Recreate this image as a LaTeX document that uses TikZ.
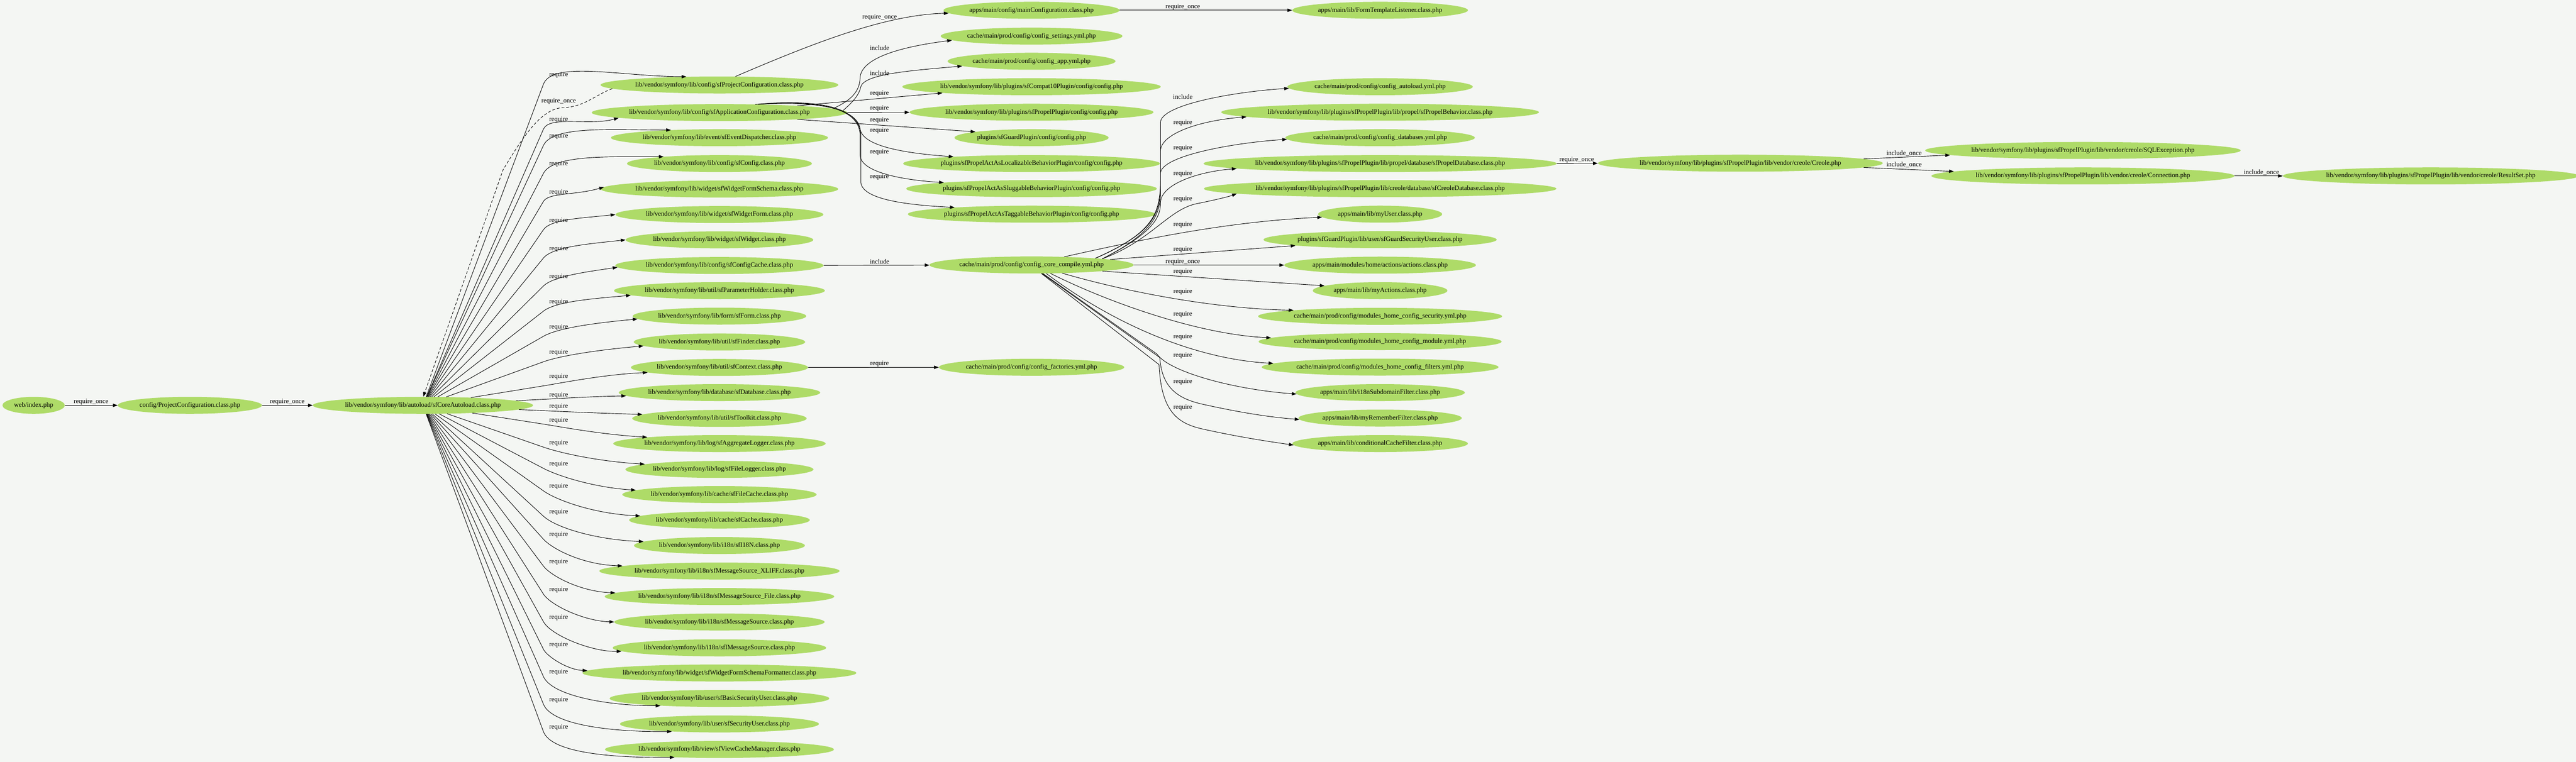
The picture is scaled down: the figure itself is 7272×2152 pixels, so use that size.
\documentclass[tikz,border=0pt]{standalone}
\usepackage{fontspec}
\setmainfont{Liberation Serif}
\usetikzlibrary{shapes.geometric,arrows.meta,calc}
\definecolor{bgc}{RGB}{244,246,243}
\definecolor{ndc}{RGB}{174,219,104}
\tikzset{
 gv/.style={ellipse, fill=ndc, draw=none, inner xsep=0pt, inner ysep=0pt, minimum height=36pt, font=\fontsize{14}{16}\selectfont},
 mw/.style={minimum width=#1*0.75pt},
 lbl/.style={font=\fontsize{14}{16}\selectfont, inner sep=0pt},
 edge/.style={draw=black, line width=1pt, -{Triangle[length=10pt,width=7pt]}},
}
\newcommand\coreedge[7]{%
 \pgfmathsetmacro\ceQy{#3+#6}%
 \pgfmathsetmacro\ceVy{(\ceQy-1145)/100}%
 \pgfmathsetmacro\ceVl{sqrt(11.56+\ceVy*\ceVy)}%
 \pgfmathsetmacro\ceD{0.18*(#4-1534)}%
 \pgfmathsetmacro\ceAx{1534+\ceD*3.4/\ceVl}%
 \pgfmathsetmacro\ceAy{\ceQy+\ceD*\ceVy/\ceVl}%
 \pgfmathsetmacro\ceBx{#4-0.45*(#4-1534)}%
 \pgfmathsetmacro\ceBy{#5+#7}%
 \draw[edge] (core) -- (1534,\ceQy) .. controls (\ceAx,\ceAy) and (\ceBx,\ceBy) .. (#1.#2);}
\begin{document}
\begin{tikzpicture}[x=0.75pt,y=-0.75pt]
\fill[bgc] (0,0) rectangle (7272,2152);
\useasboundingbox (0,0) rectangle (7272,2152);

% first nodes
\node[gv,mw=176] (web) at (95,1145) {web/index.php};
\node[gv,mw=407] (pcfg) at (536,1145) {config/ProjectConfiguration.class.php};
\node[gv,mw=618] (core) at (1194,1145) {lib/vendor/symfony/lib/autoload/sfCoreAutoload.class.php};

% left column
\node[gv,mw=658] (pc) at (2031,240) {lib/vendor/symfony/lib/config/sfProjectConfiguration.class.php};
\node[gv,mw=703] (ac) at (2031,318) {lib/vendor/symfony/lib/config/sfApplicationConfiguration.class.php};
\node[gv,mw=604] (ed) at (2031,389) {lib/vendor/symfony/lib/event/sfEventDispatcher.class.php};
\node[gv,mw=521] (cf) at (2031,462) {lib/vendor/symfony/lib/config/sfConfig.class.php};
\node[gv,mw=658] (wfs) at (2031,534) {lib/vendor/symfony/lib/widget/sfWidgetFormSchema.class.php};
\node[gv,mw=581] (wf) at (2031,606) {lib/vendor/symfony/lib/widget/sfWidgetForm.class.php};
\node[gv,mw=526] (wdg) at (2031,677.5) {lib/vendor/symfony/lib/widget/sfWidget.class.php};
\node[gv,mw=583] (cc) at (2031,750) {lib/vendor/symfony/lib/config/sfConfigCache.class.php};
\node[gv,mw=584] (ph) at (2031,821) {lib/vendor/symfony/lib/util/sfParameterHolder.class.php};
\node[gv,mw=490] (fm) at (2031,893) {lib/vendor/symfony/lib/form/sfForm.class.php};
\node[gv,mw=483] (fd) at (2031,966) {lib/vendor/symfony/lib/util/sfFinder.class.php};
\node[gv,mw=497] (ctx) at (2031,1038) {lib/vendor/symfony/lib/util/sfContext.class.php};
\node[gv,mw=565] (db) at (2031,1109) {lib/vendor/symfony/lib/database/sfDatabase.class.php};
\node[gv,mw=490] (tk) at (2031,1182) {lib/vendor/symfony/lib/util/sfToolkit.class.php};
\node[gv,mw=589] (al) at (2031,1253) {lib/vendor/symfony/lib/log/sfAggregateLogger.class.php};
\node[gv,mw=526] (fl) at (2031,1326) {lib/vendor/symfony/lib/log/sfFileLogger.class.php};
\node[gv,mw=545] (fc) at (2031,1397) {lib/vendor/symfony/lib/cache/sfFileCache.class.php};
\node[gv,mw=510] (ca) at (2031,1469) {lib/vendor/symfony/lib/cache/sfCache.class.php};
\node[gv,mw=480] (ien) at (2031,1541) {lib/vendor/symfony/lib/i18n/sfI18N.class.php};
\node[gv,mw=669] (xl) at (2031,1613) {lib/vendor/symfony/lib/i18n/sfMessageSource\_XLIFF.class.php};
\node[gv,mw=638] (fi) at (2031,1685) {lib/vendor/symfony/lib/i18n/sfMessageSource\_File.class.php};
\node[gv,mw=587] (ms) at (2031,1757) {lib/vendor/symfony/lib/i18n/sfMessageSource.class.php};
\node[gv,mw=595] (ims) at (2031,1830) {lib/vendor/symfony/lib/i18n/sfIMessageSource.class.php};
\node[gv,mw=757] (wfsf) at (2031,1901) {lib/vendor/symfony/lib/widget/sfWidgetFormSchemaFormatter.class.php};
\node[gv,mw=614] (bsu) at (2031,1973) {lib/vendor/symfony/lib/user/sfBasicSecurityUser.class.php};
\node[gv,mw=557] (su) at (2031,2045) {lib/vendor/symfony/lib/user/sfSecurityUser.class.php};
\node[gv,mw=632] (vcm) at (2031,2117) {lib/vendor/symfony/lib/view/sfViewCacheManager.class.php};

% middle column
\node[gv,mw=497] (mc) at (2912,29) {apps/main/config/mainConfiguration.class.php};
\node[gv,mw=513] (set) at (2912,102) {cache/main/prod/config/config\_settings.yml.php};
\node[gv,mw=474] (app) at (2912,173) {cache/main/prod/config/config\_app.yml.php};
\node[gv,mw=706] (c10) at (2912,245) {lib/vendor/symfony/lib/plugins/sfCompat10Plugin/config/config.php};
\node[gv,mw=669] (ppc) at (2912,317) {lib/vendor/symfony/lib/plugins/sfPropelPlugin/config/config.php};
\node[gv,mw=435] (gpc) at (2912,389) {plugins/sfGuardPlugin/config/config.php};
\node[gv,mw=704] (loc) at (2912,462) {plugins/sfPropelActAsLocalizableBehaviorPlugin/config/config.php};
\node[gv,mw=684] (slug) at (2912,533) {plugins/sfPropelActAsSluggableBehaviorPlugin/config/config.php};
\node[gv,mw=680] (tag) at (2912,605) {plugins/sfPropelActAsTaggableBehaviorPlugin/config/config.php};
\node[gv,mw=573] (cc2) at (2912,748.5) {cache/main/prod/config/config\_core\_compile.yml.php};
\node[gv,mw=521] (fac) at (2912,1037.5) {cache/main/prod/config/config\_factories.yml.php};

% right column
\node[gv,mw=496] (ftl) at (3896,29) {apps/main/lib/FormTemplateListener.class.php};
\node[gv,mw=523] (auto) at (3896,245) {cache/main/prod/config/config\_autoload.yml.php};
\node[gv,mw=870] (behav) at (3896,317) {lib/vendor/symfony/lib/plugins/sfPropelPlugin/lib/propel/sfPropelBehavior.class.php};
\node[gv,mw=535] (dbs) at (3896,389) {cache/main/prod/config/config\_databases.yml.php};
\node[gv,mw=966] (pdb) at (3896,462) {lib/vendor/symfony/lib/plugins/sfPropelPlugin/lib/propel/database/sfPropelDatabase.class.php};
\node[gv,mw=962] (cdb) at (3896,533) {lib/vendor/symfony/lib/plugins/sfPropelPlugin/lib/creole/database/sfCreoleDatabase.class.php};
\node[gv,mw=350] (myu) at (3896,605) {apps/main/lib/myUser.class.php};
\node[gv,mw=649] (gsu) at (3896,677) {plugins/sfGuardPlugin/lib/user/sfGuardSecurityUser.class.php};
\node[gv,mw=541] (act) at (3896,749) {apps/main/modules/home/actions/actions.class.php};
\node[gv,mw=380] (myact) at (3896,821) {apps/main/lib/myActions.class.php};
\node[gv,mw=680] (sec) at (3896,893.5) {cache/main/prod/config/modules\_home\_config\_security.yml.php};
\node[gv,mw=675] (mod) at (3896,965) {cache/main/prod/config/modules\_home\_config\_module.yml.php};
\node[gv,mw=658] (fil) at (3896,1037) {cache/main/prod/config/modules\_home\_config\_filters.yml.php};
\node[gv,mw=478] (i18nf) at (3896,1109) {apps/main/lib/i18nSubdomainFilter.class.php};
\node[gv,mw=461] (rem) at (3896,1181) {apps/main/lib/myRememberFilter.class.php};
\node[gv,mw=494] (cond) at (3896,1253) {apps/main/lib/conditionalCacheFilter.class.php};

% far right
\node[gv,mw=776] (creole) at (4913,461) {lib/vendor/symfony/lib/plugins/sfPropelPlugin/lib/vendor/creole/Creole.php};
\node[gv,mw=859] (sql) at (5880,425) {lib/vendor/symfony/lib/plugins/sfPropelPlugin/lib/vendor/creole/SQLException.php};
\node[gv,mw=827] (conn) at (5880,497) {lib/vendor/symfony/lib/plugins/sfPropelPlugin/lib/vendor/creole/Connection.php};
\node[gv,mw=805] (rs) at (6862,497) {lib/vendor/symfony/lib/plugins/sfPropelPlugin/lib/vendor/creole/ResultSet.php};

% ---- edges ----
\draw[edge] (web) -- (pcfg);
\draw[edge] (pcfg) -- (core);
\draw[edge,dash pattern=on 6pt off 4pt] (pc.182.8) .. controls (1680,268) and (1650,302) .. (1590,304) .. controls (1530,306) and (1480,380) .. (1420,480) -- (core.88);

\coreedge{pc}{166.1}{212}{1934}{216}{26}{0}
\coreedge{ac}{183.6}{339}{1775}{334}{26}{22}
\coreedge{ed}{171.7}{385}{1880}{367}{26}{0}
\coreedge{cf}{173.3}{464}{1869}{443}{26}{0}
\coreedge{wfs}{179.7}{543}{1699}{532}{26}{20}
\coreedge{wf}{180}{623}{1739}{606}{26}{10}
\coreedge{wdg}{180.3}{703}{1767}{679}{26}{10}
\coreedge{cc}{181.7}{782}{1754}{758}{26}{10}
\coreedge{ph}{183}{853}{1782}{834}{26}{10}
\coreedge{fm}{182.3}{924}{1807}{902}{26}{10}
\coreedge{fd}{183.3}{996}{1820}{978}{26}{10}
\coreedge{ctx}{184.5}{1064}{1842}{1053}{26}{5}
\coreedge{db}{182.5}{1117}{1779}{1120}{11}{0}
\coreedge{tk}{177.5}{1148}{1806}{1172}{12}{-5}
\coreedge{al}{175}{1188}{1827}{1235}{10}{-8}
\coreedge{fl}{176.1}{1251}{1811}{1311}{12}{-8}
\coreedge{fc}{177.1}{1311}{1793}{1385}{12}{-8}
\coreedge{ca}{177.2}{1374.5}{1802}{1458}{12}{-6}
\coreedge{ien}{177.4}{1446}{1809}{1531}{12}{-6}
\coreedge{xl}{177.7}{1511}{1729}{1601}{12}{-6}
\coreedge{fi}{178.5}{1587}{1721}{1677}{12}{-6}
\coreedge{ms}{180.2}{1666}{1739}{1758}{12}{-4}
\coreedge{ims}{182.8}{1744}{1786}{1842}{12}{0}
\coreedge{wfsf}{179.2}{1822}{1657}{1896}{12}{-4}
\coreedge{bsu}{187.5}{1899}{1871}{1994}{12}{0}
\coreedge{su}{189.7}{1977}{1897}{2068}{12}{0}
\coreedge{vcm}{190.5}{2054.5}{1902}{2141}{12}{0}

% from sfProjectConfiguration / sfApplicationConfiguration
\draw[edge] (pc.28) .. controls (2300,120) and (2500,42) .. (mc.182);
\draw[edge] (mc) -- (ftl);
\draw[edge] (ac.2.2) .. controls (2400,285) and (2427,260) .. (2428,220) .. controls (2430,170) and (2520,135) .. (set.183.1);
\draw[edge] (ac.1.7) .. controls (2405,290) and (2425,270) .. (2430,245) .. controls (2440,210) and (2560,200) .. (app.184.4);
\draw[edge] (ac.5.3) -- (c10.184.8);
\draw[edge] (ac) -- (ppc);
\draw[edge] (ac.355.4) -- (gpc.174.8);
\draw[edge] (ac.12.3) .. controls (2300,284) and (2420,305) .. (2428,364) .. controls (2434,410) and (2540,432) .. (loc.175.5);
\draw[edge] (ac.12.8) .. controls (2300,282) and (2424,300) .. (2428,380) -- (2428,440) .. controls (2432,485) and (2540,508) .. (slug.176.2);
\draw[edge] (ac.13.3) .. controls (2300,280) and (2426,298) .. (2430,380) -- (2430,515) .. controls (2434,560) and (2540,578) .. (tag.175.9);

\draw[edge] (cc) -- (cc2);
\draw[edge] (ctx) -- (fac);

% from config_core_compile
\draw[edge] (cc2.6.5) .. controls (3262,655) and (3276,600) .. (3276,500) -- (3276,346) .. controls (3276,296) and (3484,259) .. (auto.181.3);
\draw[edge] (cc2.6) .. controls (3262,655) and (3276,600) .. (3276,520) -- (3276,427) .. controls (3276,377) and (3389,340) .. (behav.182.4);
\draw[edge] (cc2.5.5) .. controls (3262,655) and (3276,600) .. (3276,540) -- (3276,490) .. controls (3276,440) and (3484,403) .. (dbs.181.3);
\draw[edge] (cc2.5.2) .. controls (3262,655) and (3276,610) .. (3276,573) .. controls (3276,523) and (3374,486) .. (pdb.182.5);
\draw[edge] (cc2.5) .. controls (3250,680) and (3300,590) .. (3380,575) .. controls (3430,565) and (3470,555) .. (cdb.182.6);
\draw[edge] (cc2.14) .. controls (3250,670) and (3480,625) .. (myu.183);
\draw[edge] (cc2.4.1) -- (gsu.184.4);
\draw[edge] (cc2) -- (act);
\draw[edge] (cc2.355.6) -- (myact.175.8);
\draw[edge] (cc2.345.1) .. controls (3200,830) and (3440,872) .. (sec.176.8);
\draw[edge] (cc2.336) .. controls (3120,850) and (3380,945) .. (mod.178);
\draw[edge] (cc2.330) .. controls (3150,920) and (3380,1015) .. (fil.178.5);
\draw[edge] (cc2.323) -- (3266,1000) .. controls (3300,1050) and (3480,1100) .. (i18nf.181);
\draw[edge] (cc2.321) -- (3274,1010) .. controls (3280,1100) and (3330,1128) .. (3400,1143) .. controls (3500,1165) and (3580,1178) .. (rem.181);
\draw[edge] (cc2.319) -- (3272,1030) .. controls (3278,1170) and (3330,1198) .. (3400,1213) .. controls (3500,1235) and (3580,1247) .. (cond.181);

% creole
\draw[edge] (pdb) -- (creole);
\draw[edge] (creole.2) -- (sql.182.1);
\draw[edge] (creole.358) -- (conn.178);
\draw[edge] (conn) -- (rs);

% ---- labels ----
\node[lbl] (lw1) at (257,1136) {require\_once};
\node[lbl] (lw2) at (811,1136) {require\_once};
\node[lbl] (ldash) at (1577,286) {require\_once};
\foreach \yy [count=\i] in {212,339,385,464,543,623,703,782,853,924,996,1064,1117,1148,1188,1251,1311,1374.5,1446,1511,1587,1666,1744,1822,1899,1977,2054.5}
  \node[lbl] (lA\i) at (1577,\yy) {require};
\node[lbl] (lB0) at (2483,49) {require\_once};
\node[lbl] (lB1) at (2483,136) {include};
\node[lbl] (lB2) at (2483,207) {include};
\foreach \yy [count=\i] in {264,307,340,369,430,500,1027}
  \node[lbl] (lB\i x) at (2483,\yy) {require};
\node[lbl] (lB9) at (2483,739) {include};
\node[lbl] (lC0) at (3339,20) {require\_once};
\node[lbl] (lC1) at (3339,274) {include};
\node[lbl] (lC2) at (3339,739) {require\_once};
\foreach \yy [count=\i] in {347,419,491,563,634.5,704.5,767.6,823.5,888,951.6,1005,1079,1151}
  \node[lbl] (lC\i x) at (3339,\yy) {require};
\node[lbl] (lD1) at (4451,452) {require\_once};
\node[lbl] (lD2) at (5375,432.5) {include\_once};
\node[lbl] (lD3) at (5375,464.7) {include\_once};
\node[lbl] (lD4) at (6384,487.5) {include\_once};
\end{tikzpicture}
\end{document}
